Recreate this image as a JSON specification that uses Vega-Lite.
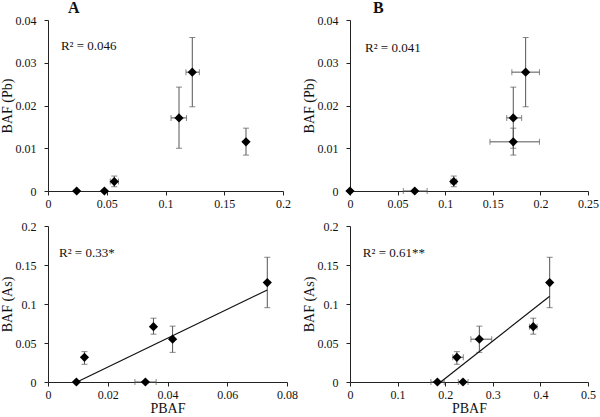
{
  "$schema": "https://vega.github.io/schema/vega-lite/v6.json",
  "background": "white",
  "padding": {"left": 0, "top": 0, "right": 5, "bottom": 0},
  "datasets": {
    "pts": [
      {"panel": "At", "x": 0.0244, "y": 0},
      {"panel": "At", "x": 0.048, "y": 0},
      {"panel": "At", "x": 0.0564, "y": 0.0022, "ylo": 0.001, "yhi": 0.0035, "xlo": 0.053, "xhi": 0.06},
      {"panel": "At", "x": 0.1115, "y": 0.0171, "ylo": 0.01, "yhi": 0.0243, "xlo": 0.1047, "xhi": 0.1179},
      {"panel": "At", "x": 0.1228, "y": 0.0278, "ylo": 0.0197, "yhi": 0.0359, "xlo": 0.1174, "xhi": 0.1288},
      {"panel": "At", "x": 0.1685, "y": 0.0115, "ylo": 0.0084, "yhi": 0.0147},
      {"panel": "Bt", "x": 0, "y": 0},
      {"panel": "Bt", "x": 0.068, "y": 0, "xlo": 0.056, "xhi": 0.081},
      {"panel": "Bt", "x": 0.109, "y": 0.0022, "ylo": 0.001, "yhi": 0.0035, "xlo": 0.106, "xhi": 0.112},
      {"panel": "Bt", "x": 0.1715, "y": 0.0171, "ylo": 0.01, "yhi": 0.0243, "xlo": 0.1646, "xhi": 0.1803},
      {"panel": "Bt", "x": 0.1845, "y": 0.0278, "ylo": 0.0197, "yhi": 0.0359, "xlo": 0.17, "xhi": 0.199},
      {"panel": "Bt", "x": 0.1715, "y": 0.0115, "ylo": 0.0084, "yhi": 0.0147, "xlo": 0.147, "xhi": 0.199},
      {"panel": "Ab", "x": 0.0095, "y": 0},
      {"panel": "Ab", "x": 0.0122, "y": 0.0317, "ylo": 0.0227, "yhi": 0.0389},
      {"panel": "Ab", "x": 0.0326, "y": 0, "xlo": 0.0291, "xhi": 0.0362},
      {"panel": "Ab", "x": 0.0353, "y": 0.0709, "ylo": 0.0613, "yhi": 0.0818},
      {"panel": "Ab", "x": 0.0417, "y": 0.0549, "ylo": 0.038, "yhi": 0.0716},
      {"panel": "Ab", "x": 0.0734, "y": 0.1275, "ylo": 0.0953, "yhi": 0.1599},
      {"panel": "Bb", "x": 0.1836, "y": 0, "xlo": 0.17, "xhi": 0.198},
      {"panel": "Bb", "x": 0.2245, "y": 0.0317, "ylo": 0.0227, "yhi": 0.0389, "xlo": 0.216, "xhi": 0.238},
      {"panel": "Bb", "x": 0.2374, "y": 0, "xlo": 0.2275, "xhi": 0.248},
      {"panel": "Bb", "x": 0.2717, "y": 0.0549, "ylo": 0.038, "yhi": 0.0716, "xlo": 0.254, "xhi": 0.2977},
      {"panel": "Bb", "x": 0.385, "y": 0.0709, "ylo": 0.0613, "yhi": 0.0818, "xlo": 0.377, "xhi": 0.393},
      {"panel": "Bb", "x": 0.4195, "y": 0.1275, "ylo": 0.0953, "yhi": 0.1599}
    ],
    "lines": [
      {"panel": "Ab", "lx": 0.0097, "ly": 0},
      {"panel": "Ab", "lx": 0.0734, "ly": 0.118},
      {"panel": "Bb", "lx": 0.1905, "ly": 0},
      {"panel": "Bb", "lx": 0.4195, "ly": 0.11}
    ],
    "notes": [
      {"panel": "At", "tx": 0.011, "ty": 0.0339, "label": "R² = 0.046"},
      {"panel": "Bt", "tx": 0.0158, "ty": 0.0334, "label": "R² = 0.041"},
      {"panel": "Ab", "tx": 0.0037, "ty": 0.165, "label": "R² = 0.33*"},
      {"panel": "Bb", "tx": 0.027, "ty": 0.165, "label": "R² = 0.61**"}
    ]
  },
  "columns": 2,
  "bounds": "flush",
  "spacing": {"row": 35, "column": 63},
  "concat": [
    {
      "width": 235, "height": 171,
      "title": {"text": "A", "dx": 20, "dy": 7},
      "layer": [
        {"data": {"name": "pts"}, "transform": [{"filter": "datum.panel == 'At' && isValid(datum.ylo)"}],
         "mark": {"type": "errorbar", "color": "#555", "thickness": 1, "ticks": {"size": 6}},
         "encoding": {
           "x": {"field": "x", "type": "quantitative", "scale": {"domain": [0, 0.2], "nice": false, "zero": false}, "axis": {"values": [0, 0.05, 0.1, 0.15, 0.2], "title": null}},
           "y": {"field": "ylo", "type": "quantitative", "scale": {"domain": [0, 0.04], "nice": false}, "axis": {"values": [0, 0.01, 0.02, 0.03, 0.04], "title": "BAF (Pb)"}},
           "y2": {"field": "yhi"}}},
        {"data": {"name": "pts"}, "transform": [{"filter": "datum.panel == 'At' && isValid(datum.xlo)"}],
         "mark": {"type": "errorbar", "color": "#555", "thickness": 1, "ticks": {"size": 6}},
         "encoding": {
           "y": {"field": "y", "type": "quantitative", "scale": {"domain": [0, 0.04], "nice": false}, "axis": {"values": [0, 0.01, 0.02, 0.03, 0.04], "title": "BAF (Pb)"}},
           "x": {"field": "xlo", "type": "quantitative", "scale": {"domain": [0, 0.2], "nice": false, "zero": false}, "axis": {"values": [0, 0.05, 0.1, 0.15, 0.2], "title": null}},
           "x2": {"field": "xhi"}}},
        {"data": {"name": "pts"}, "transform": [{"filter": "datum.panel == 'At'"}],
         "mark": {"type": "point", "shape": "diamond", "filled": true, "color": "#000", "size": 85, "opacity": 1},
         "encoding": {
           "x": {"field": "x", "type": "quantitative", "scale": {"domain": [0, 0.2], "nice": false, "zero": false}, "axis": {"values": [0, 0.05, 0.1, 0.15, 0.2], "title": null}},
           "y": {"field": "y", "type": "quantitative", "scale": {"domain": [0, 0.04], "nice": false}, "axis": {"values": [0, 0.01, 0.02, 0.03, 0.04], "title": "BAF (Pb)"}}}},
        {"data": {"name": "notes"}, "transform": [{"filter": "datum.panel == 'At'"}],
         "mark": {"type": "text", "align": "left", "baseline": "middle", "font": "Liberation Serif, Times New Roman, serif", "fontSize": 13, "color": "#111"},
         "encoding": {
           "x": {"field": "tx", "type": "quantitative", "scale": {"domain": [0, 0.2], "nice": false, "zero": false}, "axis": {"values": [0, 0.05, 0.1, 0.15, 0.2], "title": null}},
           "y": {"field": "ty", "type": "quantitative", "scale": {"domain": [0, 0.04], "nice": false}, "axis": {"values": [0, 0.01, 0.02, 0.03, 0.04], "title": "BAF (Pb)"}},
           "text": {"field": "label"}}}
      ]
    },
    {
      "width": 238, "height": 171,
      "title": {"text": "B", "dx": 23, "dy": 7},
      "layer": [
        {"data": {"name": "pts"}, "transform": [{"filter": "datum.panel == 'Bt' && isValid(datum.ylo)"}],
         "mark": {"type": "errorbar", "color": "#555", "thickness": 1, "ticks": {"size": 6}},
         "encoding": {
           "x": {"field": "x", "type": "quantitative", "scale": {"domain": [0, 0.25], "nice": false, "zero": false}, "axis": {"values": [0, 0.05, 0.1, 0.15, 0.2, 0.25], "title": null}},
           "y": {"field": "ylo", "type": "quantitative", "scale": {"domain": [0, 0.04], "nice": false}, "axis": {"values": [0, 0.01, 0.02, 0.03, 0.04], "title": "BAF (Pb)"}},
           "y2": {"field": "yhi"}}},
        {"data": {"name": "pts"}, "transform": [{"filter": "datum.panel == 'Bt' && isValid(datum.xlo)"}],
         "mark": {"type": "errorbar", "color": "#555", "thickness": 1, "ticks": {"size": 6}},
         "encoding": {
           "y": {"field": "y", "type": "quantitative", "scale": {"domain": [0, 0.04], "nice": false}, "axis": {"values": [0, 0.01, 0.02, 0.03, 0.04], "title": "BAF (Pb)"}},
           "x": {"field": "xlo", "type": "quantitative", "scale": {"domain": [0, 0.25], "nice": false, "zero": false}, "axis": {"values": [0, 0.05, 0.1, 0.15, 0.2, 0.25], "title": null}},
           "x2": {"field": "xhi"}}},
        {"data": {"name": "pts"}, "transform": [{"filter": "datum.panel == 'Bt'"}],
         "mark": {"type": "point", "shape": "diamond", "filled": true, "color": "#000", "size": 85, "opacity": 1},
         "encoding": {
           "x": {"field": "x", "type": "quantitative", "scale": {"domain": [0, 0.25], "nice": false, "zero": false}, "axis": {"values": [0, 0.05, 0.1, 0.15, 0.2, 0.25], "title": null}},
           "y": {"field": "y", "type": "quantitative", "scale": {"domain": [0, 0.04], "nice": false}, "axis": {"values": [0, 0.01, 0.02, 0.03, 0.04], "title": "BAF (Pb)"}}}},
        {"data": {"name": "notes"}, "transform": [{"filter": "datum.panel == 'Bt'"}],
         "mark": {"type": "text", "align": "left", "baseline": "middle", "font": "Liberation Serif, Times New Roman, serif", "fontSize": 13, "color": "#111"},
         "encoding": {
           "x": {"field": "tx", "type": "quantitative", "scale": {"domain": [0, 0.25], "nice": false, "zero": false}, "axis": {"values": [0, 0.05, 0.1, 0.15, 0.2, 0.25], "title": null}},
           "y": {"field": "ty", "type": "quantitative", "scale": {"domain": [0, 0.04], "nice": false}, "axis": {"values": [0, 0.01, 0.02, 0.03, 0.04], "title": "BAF (Pb)"}},
           "text": {"field": "label"}}}
      ]
    },
    {
      "width": 239, "height": 156,
      "layer": [
        {"data": {"name": "pts"}, "transform": [{"filter": "datum.panel == 'Ab' && isValid(datum.ylo)"}],
         "mark": {"type": "errorbar", "color": "#555", "thickness": 1, "ticks": {"size": 6}},
         "encoding": {
           "x": {"field": "x", "type": "quantitative", "scale": {"domain": [0, 0.08], "nice": false, "zero": false}, "axis": {"values": [0, 0.02, 0.04, 0.06, 0.08], "title": "PBAF"}},
           "y": {"field": "ylo", "type": "quantitative", "scale": {"domain": [0, 0.2], "nice": false}, "axis": {"values": [0, 0.05, 0.1, 0.15, 0.2], "title": "BAF (As)"}},
           "y2": {"field": "yhi"}}},
        {"data": {"name": "pts"}, "transform": [{"filter": "datum.panel == 'Ab' && isValid(datum.xlo)"}],
         "mark": {"type": "errorbar", "color": "#555", "thickness": 1, "ticks": {"size": 6}},
         "encoding": {
           "y": {"field": "y", "type": "quantitative", "scale": {"domain": [0, 0.2], "nice": false}, "axis": {"values": [0, 0.05, 0.1, 0.15, 0.2], "title": "BAF (As)"}},
           "x": {"field": "xlo", "type": "quantitative", "scale": {"domain": [0, 0.08], "nice": false, "zero": false}, "axis": {"values": [0, 0.02, 0.04, 0.06, 0.08], "title": "PBAF"}},
           "x2": {"field": "xhi"}}},
        {"data": {"name": "lines"}, "transform": [{"filter": "datum.panel == 'Ab'"}],
         "mark": {"type": "line", "color": "#111", "strokeWidth": 1.2},
         "encoding": {
           "x": {"field": "lx", "type": "quantitative", "scale": {"domain": [0, 0.08], "nice": false, "zero": false}, "axis": {"values": [0, 0.02, 0.04, 0.06, 0.08], "title": "PBAF"}},
           "y": {"field": "ly", "type": "quantitative", "scale": {"domain": [0, 0.2], "nice": false}, "axis": {"values": [0, 0.05, 0.1, 0.15, 0.2], "title": "BAF (As)"}}}},
        {"data": {"name": "pts"}, "transform": [{"filter": "datum.panel == 'Ab'"}],
         "mark": {"type": "point", "shape": "diamond", "filled": true, "color": "#000", "size": 85, "opacity": 1},
         "encoding": {
           "x": {"field": "x", "type": "quantitative", "scale": {"domain": [0, 0.08], "nice": false, "zero": false}, "axis": {"values": [0, 0.02, 0.04, 0.06, 0.08], "title": "PBAF"}},
           "y": {"field": "y", "type": "quantitative", "scale": {"domain": [0, 0.2], "nice": false}, "axis": {"values": [0, 0.05, 0.1, 0.15, 0.2], "title": "BAF (As)"}}}},
        {"data": {"name": "notes"}, "transform": [{"filter": "datum.panel == 'Ab'"}],
         "mark": {"type": "text", "align": "left", "baseline": "middle", "font": "Liberation Serif, Times New Roman, serif", "fontSize": 13, "color": "#111"},
         "encoding": {
           "x": {"field": "tx", "type": "quantitative", "scale": {"domain": [0, 0.08], "nice": false, "zero": false}, "axis": {"values": [0, 0.02, 0.04, 0.06, 0.08], "title": "PBAF"}},
           "y": {"field": "ty", "type": "quantitative", "scale": {"domain": [0, 0.2], "nice": false}, "axis": {"values": [0, 0.05, 0.1, 0.15, 0.2], "title": "BAF (As)"}},
           "text": {"field": "label"}}}
      ]
    },
    {
      "width": 238, "height": 156,
      "layer": [
        {"data": {"name": "pts"}, "transform": [{"filter": "datum.panel == 'Bb' && isValid(datum.ylo)"}],
         "mark": {"type": "errorbar", "color": "#555", "thickness": 1, "ticks": {"size": 6}},
         "encoding": {
           "x": {"field": "x", "type": "quantitative", "scale": {"domain": [0, 0.5], "nice": false, "zero": false}, "axis": {"values": [0, 0.1, 0.2, 0.3, 0.4, 0.5], "title": "PBAF"}},
           "y": {"field": "ylo", "type": "quantitative", "scale": {"domain": [0, 0.2], "nice": false}, "axis": {"values": [0, 0.05, 0.1, 0.15, 0.2], "title": "BAF (As)"}},
           "y2": {"field": "yhi"}}},
        {"data": {"name": "pts"}, "transform": [{"filter": "datum.panel == 'Bb' && isValid(datum.xlo)"}],
         "mark": {"type": "errorbar", "color": "#555", "thickness": 1, "ticks": {"size": 6}},
         "encoding": {
           "y": {"field": "y", "type": "quantitative", "scale": {"domain": [0, 0.2], "nice": false}, "axis": {"values": [0, 0.05, 0.1, 0.15, 0.2], "title": "BAF (As)"}},
           "x": {"field": "xlo", "type": "quantitative", "scale": {"domain": [0, 0.5], "nice": false, "zero": false}, "axis": {"values": [0, 0.1, 0.2, 0.3, 0.4, 0.5], "title": "PBAF"}},
           "x2": {"field": "xhi"}}},
        {"data": {"name": "lines"}, "transform": [{"filter": "datum.panel == 'Bb'"}],
         "mark": {"type": "line", "color": "#111", "strokeWidth": 1.2},
         "encoding": {
           "x": {"field": "lx", "type": "quantitative", "scale": {"domain": [0, 0.5], "nice": false, "zero": false}, "axis": {"values": [0, 0.1, 0.2, 0.3, 0.4, 0.5], "title": "PBAF"}},
           "y": {"field": "ly", "type": "quantitative", "scale": {"domain": [0, 0.2], "nice": false}, "axis": {"values": [0, 0.05, 0.1, 0.15, 0.2], "title": "BAF (As)"}}}},
        {"data": {"name": "pts"}, "transform": [{"filter": "datum.panel == 'Bb'"}],
         "mark": {"type": "point", "shape": "diamond", "filled": true, "color": "#000", "size": 85, "opacity": 1},
         "encoding": {
           "x": {"field": "x", "type": "quantitative", "scale": {"domain": [0, 0.5], "nice": false, "zero": false}, "axis": {"values": [0, 0.1, 0.2, 0.3, 0.4, 0.5], "title": "PBAF"}},
           "y": {"field": "y", "type": "quantitative", "scale": {"domain": [0, 0.2], "nice": false}, "axis": {"values": [0, 0.05, 0.1, 0.15, 0.2], "title": "BAF (As)"}}}},
        {"data": {"name": "notes"}, "transform": [{"filter": "datum.panel == 'Bb'"}],
         "mark": {"type": "text", "align": "left", "baseline": "middle", "font": "Liberation Serif, Times New Roman, serif", "fontSize": 13, "color": "#111"},
         "encoding": {
           "x": {"field": "tx", "type": "quantitative", "scale": {"domain": [0, 0.5], "nice": false, "zero": false}, "axis": {"values": [0, 0.1, 0.2, 0.3, 0.4, 0.5], "title": "PBAF"}},
           "y": {"field": "ty", "type": "quantitative", "scale": {"domain": [0, 0.2], "nice": false}, "axis": {"values": [0, 0.05, 0.1, 0.15, 0.2], "title": "BAF (As)"}},
           "text": {"field": "label"}}}
      ]
    }
  ],
  "config": {
    "view": {"stroke": null},
    "axis": {
      "grid": false, "domainColor": "#222", "tickColor": "#222", "tickSize": 4,
      "labelFont": "Liberation Serif, Times New Roman, serif", "labelFontSize": 12, "labelColor": "#111",
      "titleFont": "Liberation Serif, Times New Roman, serif", "titleFontSize": 14, "titleFontWeight": "normal", "titleColor": "#111",
      "labelExpr": "'' + datum.value", "labelFlush": false, "labelOverlap": false
    },
    "axisX": {"labelPadding": 3, "titlePadding": 1},
    "axisY": {"labelPadding": 8, "titlePadding": 1},
    "title": {"font": "Liberation Serif, Times New Roman, serif", "fontSize": 16, "fontWeight": "bold", "color": "#111", "anchor": "start", "frame": "group", "baseline": "alphabetic", "offset": 5}
  }
}
